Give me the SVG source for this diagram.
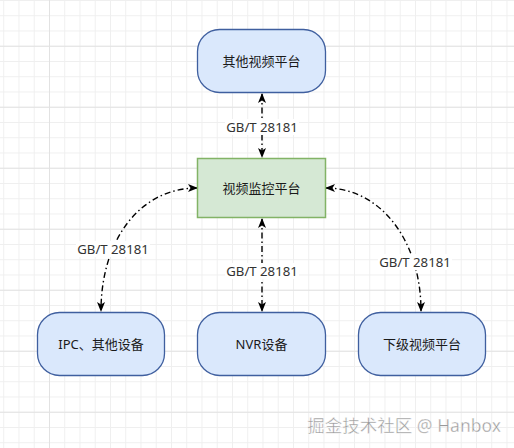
<svg xmlns="http://www.w3.org/2000/svg" width="514" height="448" viewBox="0 0 514 448">
<style>
.blue{fill:#dae8fc;stroke:#3f5f9f;stroke-width:1.3}
.green{fill:#d5e8d4;stroke:#82b366;stroke-width:1.5}
.t{font-family:"Noto Sans","Noto Sans CJK SC",sans-serif;font-size:13px;fill:#1a1a1a;text-anchor:middle;dominant-baseline:central}
.lbl{font-family:"Noto Sans","Noto Sans CJK SC",sans-serif;font-size:13.2px;fill:#333;text-anchor:middle;dominant-baseline:central}
.edge{fill:none;stroke:#000;stroke-width:1.4;stroke-dasharray:6 3 1.5 3;marker-start:url(#ah);marker-end:url(#ah)}
.lb{fill:#fff}
</style>
<defs>
<pattern id="minor" patternUnits="userSpaceOnUse" x="3.25" y="0" width="15.25" height="15.25">
<path d="M0.5,0V15.25M0,0.5H15.25" stroke="#efefef" stroke-width="1" fill="none"/>
</pattern>
<pattern id="major" patternUnits="userSpaceOnUse" x="49" y="45.75" width="61" height="61">
<path d="M0.5,0V61M0,0.5H61" stroke="#e2e2e2" stroke-width="1" fill="none"/>
</pattern>
<marker id="ah" viewBox="0 0 10 8" refX="9" refY="4" markerWidth="10" markerHeight="8" markerUnits="userSpaceOnUse" orient="auto-start-reverse">
<path d="M0,0L10,4L0,8L2.5,4z" fill="#000"/>
</marker>
</defs>
<rect width="514" height="448" fill="#fff"/>
<rect width="514" height="448" fill="url(#minor)"/>
<rect width="514" height="448" fill="url(#major)"/>

<g id="connectors">
<path class="edge" d="M262,94V157"/>
<path class="edge" d="M262,219V311"/>
<path class="edge" d="M197,188C140,188 101,240 101,311"/>
<path class="edge" d="M326,188C380,188 421,240 421,311"/>
<rect class="lb" x="225" y="119" width="74" height="16"/>
<text class="lbl" x="262" y="127">GB/T 28181</text>
<rect class="lb" x="225" y="263" width="74" height="16"/>
<text class="lbl" x="262" y="271">GB/T 28181</text>
<rect class="lb" x="76" y="241" width="74" height="16"/>
<text class="lbl" x="113" y="249">GB/T 28181</text>
<rect class="lb" x="378" y="254" width="74" height="16"/>
<text class="lbl" x="415" y="262">GB/T 28181</text>
</g>

<g id="n-top">
<rect class="blue" x="197.5" y="29.5" width="128" height="63" rx="22" ry="22"/>
<text class="t" x="261.5" y="61">其他视频平台</text>
</g>
<g id="n-center">
<rect class="green" x="197.5" y="158.5" width="128" height="59"/>
<text class="t" x="261.5" y="188">视频监控平台</text>
</g>
<g id="n-ipc">
<rect class="blue" x="37.5" y="312.5" width="127" height="63" rx="22" ry="22"/>
<text class="t" x="101" y="344">IPC、其他设备</text>
</g>
<g id="n-nvr">
<rect class="blue" x="197.5" y="312.5" width="128" height="63" rx="22" ry="22"/>
<text class="t" x="261.5" y="344">NVR设备</text>
</g>
<g id="n-sub">
<rect class="blue" x="358.5" y="312.5" width="127" height="63" rx="22" ry="22"/>
<text class="t" x="422" y="344">下级视频平台</text>
</g>

<text x="501" y="425" font-family="Noto Sans, Noto Sans CJK SC, sans-serif" font-size="17.5" fill="#999" text-anchor="end" dominant-baseline="central" stroke="#fff" stroke-width="0.4">掘金技术社区 @ Hanbox</text>
</svg>
